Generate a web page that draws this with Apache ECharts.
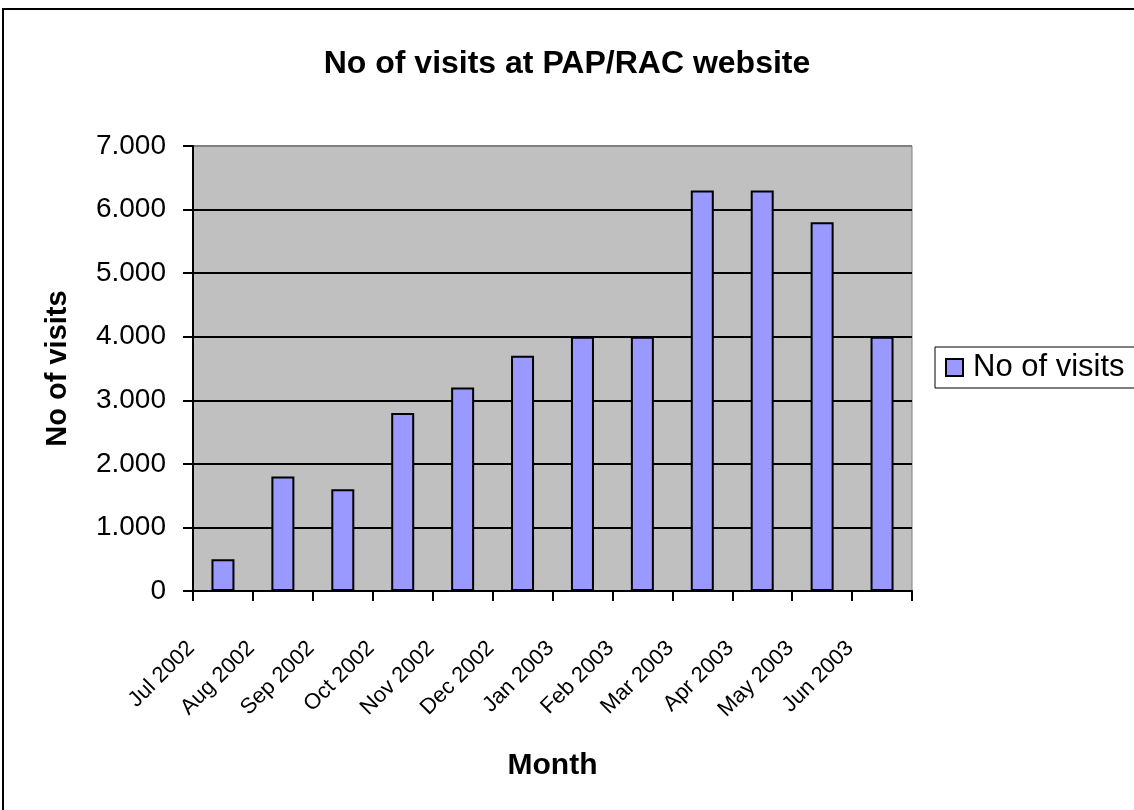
<!DOCTYPE html>
<html>
<head>
<meta charset="utf-8">
<script src="https://cdn.jsdelivr.net/npm/echarts@6/dist/echarts.min.js"></script>
<style>
html,body{margin:0;padding:0;background:#fff;}
#chart{width:1134px;height:810px;}
</style>
</head>
<body>
<div id="chart"></div>
<script>
const categories = ['Jul 2002','Aug 2002','Sep 2002','Oct 2002','Nov 2002','Dec 2002','Jan 2003','Feb 2003','Mar 2003','Apr 2003','May 2003','Jun 2003'];
const visits = [500, 1800, 1600, 2800, 3200, 3700, 4000, 4000, 6300, 6300, 5800, 4000];
const seriesName = 'No of visits';
const titleText = 'No of visits at PAP/RAC website';
const xAxisName = 'Month';
const yAxisName = 'No of visits';

const FONT = "'Liberation Sans', Arial, sans-serif";
function fmt(v){
  if (v === 0) return '0';
  const s = String(Math.round(v));
  return s.replace(/\B(?=(\d{3})+(?!\d))/g, '.');
}

const chart = echarts.init(document.getElementById('chart'), null, {renderer:'canvas'});
chart.setOption({
  animation: false,
  backgroundColor: '#ffffff',
  textStyle: {fontFamily: FONT, color: '#000'},
  title: {
    text: titleText,
    left: 'center',
    top: 43,
    textStyle: {fontFamily: FONT, fontSize: 32, fontWeight: 'bold', color: '#000'}
  },
  graphic: [{
    type: 'rect',
    shape: {x: 3, y: 9, width: 1300, height: 1000},
    style: {fill: 'none', stroke: '#000', lineWidth: 2},
    z: 100, silent: true
  }],
  legend: {
    left: 935,
    top: 347,
    orient: 'vertical',
    padding: [5, 40, 5, 10],
    borderColor: '#000',
    borderWidth: 1,
    itemWidth: 17,
    itemHeight: 17,
    icon: 'rect',
    textStyle: {fontFamily: FONT, fontSize: 31, color: '#000', padding: [0,0,0,5]},
    data: [seriesName]
  },
  grid: {
    left: 193, right: 222, top: 146, bottom: 219,
    show: true,
    backgroundColor: '#C0C0C0',
    borderColor: '#808080',
    borderWidth: 1,
    containLabel: false
  },
  xAxis: {
    type: 'category',
    data: categories,
    name: xAxisName,
    nameLocation: 'middle',
    nameGap: 160,
    nameTextStyle: {fontFamily: FONT, fontSize: 30, fontWeight: 'bold', color: '#000'},
    axisLine: {lineStyle: {color: '#000', width: 2}},
    axisTick: {show: true, length: 10, lineStyle: {color: '#000', width: 2}},
    axisLabel: {
      interval: 0,
      rotate: 45,
      margin: 22,
      padding: [0, 45, 0, 0],
      fontFamily: FONT,
      fontSize: 22,
      color: '#000'
    },
    splitLine: {show: false}
  },
  yAxis: {
    type: 'value',
    min: 0, max: 7000, interval: 1000,
    name: yAxisName,
    nameLocation: 'middle',
    nameGap: 121,
    nameTextStyle: {fontFamily: FONT, fontSize: 29, fontWeight: 'bold', color: '#000'},
    axisLine: {show: true, lineStyle: {color: '#000', width: 2}},
    axisTick: {show: true, length: 10, lineStyle: {color: '#000', width: 2}},
    axisLabel: {
      margin: 27,
      fontFamily: FONT,
      fontSize: 28,
      color: '#000',
      formatter: fmt
    },
    splitLine: {show: true, lineStyle: {color: ['#000','#000','#000','#000','#000','#000','#000','#808080'], width: 2}}
  },
  series: [{
    name: seriesName,
    type: 'bar',
    data: visits,
    barWidth: 23,
    itemStyle: {color: '#9999FF', borderColor: '#000', borderWidth: 2}
  }]
});
</script>
</body>
</html>
